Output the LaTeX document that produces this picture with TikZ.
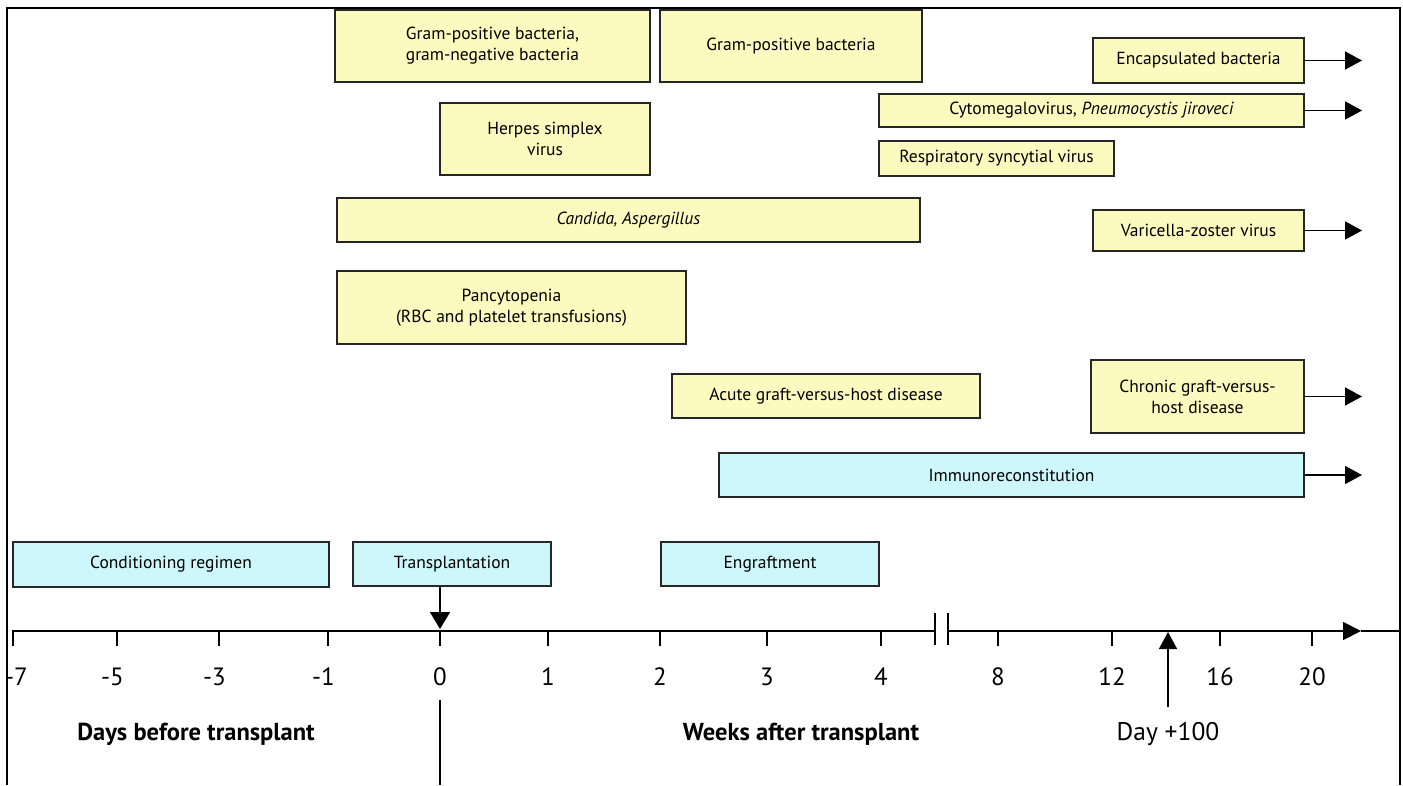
\documentclass[tikz,border=0pt]{standalone}
\usepackage{fontspec}
\setmainfont{PT Sans}
\usetikzlibrary{arrows.meta}
\definecolor{boxyellow}{RGB}{253,250,192}
\definecolor{boxcyan}{RGB}{206,247,252}
\begin{document}
\begin{tikzpicture}[x=1pt,y=-1pt,
  ybox/.style={draw=black!85, line width=1.6pt, fill=boxyellow, inner sep=0pt, align=center,
               font=\fontsize{17.5}{21}\selectfont},
  cbox/.style={ybox, fill=boxcyan},
  conn/.style={line width=1.6pt, -{Triangle[length=17pt,width=18pt]}},
  axisline/.style={line width=1.8pt},
  ticklab/.style={font=\fontsize{25}{27}\selectfont, anchor=base},
  biglab/.style={font=\bfseries\fontsize{24.5}{27}\selectfont},
  daylab/.style={font=\fontsize{25.5}{27}\selectfont}
]
\useasboundingbox (0,0) rectangle (1403,785);
% frame
\draw[line width=1.8pt] (7,785) -- (7,8) -- (1400,8) -- (1400,785);

% yellow boxes
\node[ybox, minimum width=315pt, minimum height=72pt] (gpgn) at (492.5,46) {Gram-positive bacteria,\\gram-negative bacteria};
\node[ybox, minimum width=262pt, minimum height=72pt] (gp) at (791,46) {Gram-positive bacteria};
\node[ybox, minimum width=211pt, minimum height=45pt] (encap) at (1198.5,60.5) {Encapsulated bacteria};
\node[ybox, minimum width=210pt, minimum height=72pt] (hsv) at (545,139) {Herpes simplex\\virus};
\node[ybox, minimum width=425pt, minimum height=33pt] (cmv) at (1091.5,110.5) {Cytomegalovirus, \textit{Pneumocystis jiroveci}};
\node[ybox, minimum width=235pt, minimum height=35pt] (rsv) at (996.5,158.5) {Respiratory syncytial virus};
\node[ybox, minimum width=583pt, minimum height=44pt] (cand) at (628.5,220) {\textit{Candida, Aspergillus}};
\node[ybox, minimum width=211pt, minimum height=41pt] (vzv) at (1198.5,230.5) {Varicella-zoster virus};
\node[ybox, minimum width=349pt, minimum height=73pt] (pancy) at (511.5,307.5) {Pancytopenia\\(RBC and platelet transfusions)};
\node[ybox, minimum width=308pt, minimum height=44pt] (agvhd) at (826,396) {Acute graft-versus-host disease};
\node[ybox, minimum width=213pt, minimum height=73pt] (cgvhd) at (1197.5,396.5) {Chronic graft-versus-\\host disease};

% cyan boxes
\node[cbox, minimum width=585pt, minimum height=44pt] (immuno) at (1011.5,475) {Immunoreconstitution};
\node[cbox, minimum width=316pt, minimum height=45pt] (cond) at (171,564.5) {Conditioning regimen};
\node[cbox, minimum width=198pt, minimum height=44pt] (transp) at (452,564) {Transplantation};
\node[cbox, minimum width=218pt, minimum height=44pt] (engr) at (770,564) {Engraftment};

% arrows to the right
\coordinate (endx) at (1362,0);
\foreach \b in {encap,cmv,vzv,cgvhd,immuno}
  \draw[conn] (\b.east) -- (\b.east -| endx);

% axis
\coordinate (ax0) at (13,631);
\coordinate (axb1) at (935,631);
\coordinate (axb2) at (948,631);
\coordinate (axtip) at (1361,631);
\coordinate (axend) at (1400,631);
\draw[axisline] (ax0) -- (axb1);
\draw[axisline, -{Triangle[length=18pt,width=18pt]}] (axb2) -- (axtip);
\draw[axisline] (axtip) -- (axend);
\draw[line width=1.5pt] (935,613) -- (935,645);
\draw[line width=1.5pt] (948,613) -- (948,645);

% ticks and labels
\foreach \x in {13, 117, 219, 328}{
  \draw[line width=1.8pt] (\x,630) -- (\x,646);
}
\foreach \x/\l in {440/0, 548/1, 660/2, 767/3, 881/4, 998/8, 1112/12, 1220/16, 1312/20}{
  \draw[line width=1.8pt] (\x,630) -- (\x,646);
  \node[ticklab] at (\x,685) {\l};
}
\node[ticklab] at (21,685) {\makebox[0pt][r]{-}7};
\node[ticklab] at (117,685) {\makebox[0pt][r]{-}5};
\node[ticklab] at (219,685) {\makebox[0pt][r]{-}3};
\node[ticklab] at (328,685) {\makebox[0pt][r]{-}1};

% transplantation arrow
\coordinate (tz) at (440,629);
\draw[line width=1.6pt, -{Triangle[length=17pt,width=20pt]}] (transp.south -| tz) -- (tz);

% day +100 arrow
\node[daylab] (day) at (1168,734) {Day +100};
\coordinate (d100) at (1168,632);
\draw[line width=1.6pt, -{Triangle[length=17pt,width=18pt]}] (1168,707) -- (d100);

% bottom labels
\node[biglab] (before) at (196,734) {Days before transplant};
\node[biglab] (after) at (801,734) {Weeks after transplant};
\draw[line width=1.6pt] (440,700) -- (440,785);
\end{tikzpicture}
\end{document}
